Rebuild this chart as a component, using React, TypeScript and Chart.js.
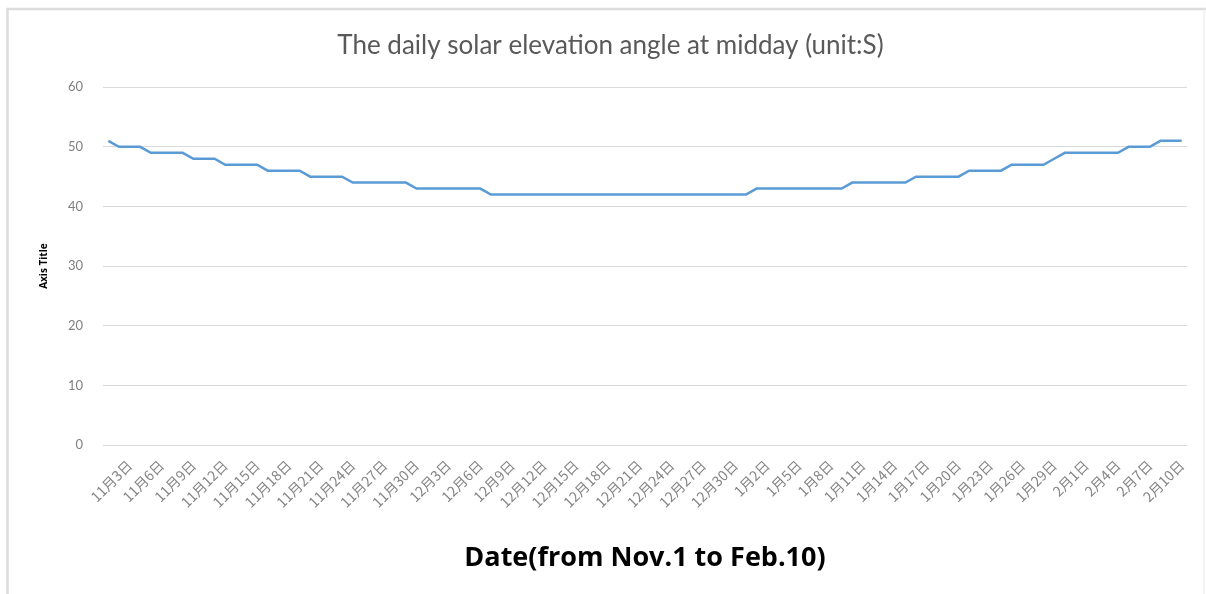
import React, { useEffect, useRef } from "react";
import { Chart, registerables } from "chart.js";

Chart.register(...registerables);

// Date range on the category axis (month, first day, last day)
const monthSpans: [number, number, number][] = [
  [11, 1, 30],
  [12, 1, 31],
  [1, 1, 31],
  [2, 1, 10],
];

const dateLabels: string[] = [];
for (const [m, from, to] of monthSpans) {
  for (let d = from; d <= to; d++) dateLabels.push(`${m}月${d}日`);
}

// Noon solar elevation angle, one value per day (Nov 1 – Feb 10)
const elevation: number[] = [
  51, 50, 50, 50, 49, 49, 49, 49, 48, 48,
  48, 47, 47, 47, 47, 46, 46, 46, 46, 45,
  45, 45, 45, 44, 44, 44, 44, 44, 44, 43,
  43, 43, 43, 43, 43, 43, 42, 42, 42, 42,
  42, 42, 42, 42, 42, 42, 42, 42, 42, 42,
  42, 42, 42, 42, 42, 42, 42, 42, 42, 42,
  42, 43, 43, 43, 43, 43, 43, 43, 43, 43,
  44, 44, 44, 44, 44, 44, 45, 45, 45, 45,
  45, 46, 46, 46, 46, 47, 47, 47, 47, 48,
  49, 49, 49, 49, 49, 49, 50, 50, 50, 51,
  51, 51,
];

const yTicks = { min: 0, max: 60, step: 10 };
const labelEvery = 3;
const firstLabel = 2;

const chartTitle = "The daily solar elevation angle at midday (unit:S)";
const xTitle = "Date(from Nov.1 to Feb.10)";
const yTitle = "Axis Title";

const W = 1206;
const H = 594;

// Light frame around the chart area
const framePlugin = {
  id: "frame",
  beforeDraw(chart: Chart) {
    const ctx = chart.ctx;
    ctx.save();
    ctx.fillStyle = "#ffffff";
    ctx.fillRect(0, 0, chart.width, chart.height);
    ctx.strokeStyle = "#dcdcdc";
    ctx.lineWidth = 2.5;
    ctx.beginPath();
    ctx.moveTo(7.5, H);
    ctx.lineTo(7.5, 9);
    ctx.lineTo(W, 9);
    ctx.stroke();
    ctx.strokeStyle = "#f0f0f0";
    ctx.lineWidth = 1.5;
    ctx.beginPath();
    ctx.moveTo(1204, 9);
    ctx.lineTo(1204, H);
    ctx.stroke();
    ctx.restore();
  },
};

export default function App() {
  const ref = useRef<HTMLCanvasElement>(null);

  useEffect(() => {
    document.body.style.margin = "0";
    const canvas = ref.current;
    if (!canvas) return;
    const chart = new Chart(canvas, {
      type: "line",
      data: {
        labels: dateLabels,
        datasets: [
          {
            data: elevation,
            borderColor: "#5B9BD5",
            borderWidth: 2.5,
            pointRadius: 0,
            tension: 0,
            fill: false,
          },
        ],
      },
      options: {
        responsive: false,
        animation: false,
        devicePixelRatio: 1,
        layout: { padding: { left: 34, right: 19, top: 0, bottom: 17 } },
        plugins: {
          legend: { display: false },
          tooltip: { enabled: false },
          title: {
            display: true,
            text: chartTitle,
            color: "#595959",
            font: { family: "Lato", size: 26, weight: "normal" },
            padding: { top: 30, bottom: 26 },
          },
        },
        scales: {
          x: {
            type: "category",
            offset: true,
            grid: { display: false, drawTicks: false },
            border: { display: false },
            ticks: {
              autoSkip: false,
              maxRotation: 45,
              minRotation: 45,
              padding: 12,
              color: "#858585",
              font: { family: "Noto Sans CJK SC", size: 14 },
              callback: (_v: any, i: number) =>
                i % labelEvery === firstLabel ? dateLabels[i] : "",
            },
            title: {
              display: true,
              text: xTitle,
              color: "#000000",
              font: { family: "Open Sans", size: 27, weight: "bold" },
              padding: { top: 4, bottom: 2 },
            },
            afterFit(scale: any) {
              scale.height = 132;
            },
          },
          y: {
            min: yTicks.min,
            max: yTicks.max,
            grid: { color: "#d9d9d9", lineWidth: 1, drawTicks: false },
            border: { display: false },
            ticks: {
              stepSize: yTicks.step,
              padding: 20,
              color: "#808080",
              font: { family: "Lato", size: 13 },
            },
            title: {
              display: true,
              text: yTitle,
              color: "#000000",
              font: { family: "Open Sans", size: 10, weight: "bold" },
              padding: { top: 4, bottom: 4 },
            },
            afterFit(scale: any) {
              scale.width = 69;
            },
          },
        },
      },
      plugins: [framePlugin],
    });
    return () => chart.destroy();
  }, []);

  return (
    <div style={{ width: W, height: H, overflow: "hidden" }}>
      <canvas ref={ref} width={W} height={H} style={{ display: "block" }} />
    </div>
  );
}
